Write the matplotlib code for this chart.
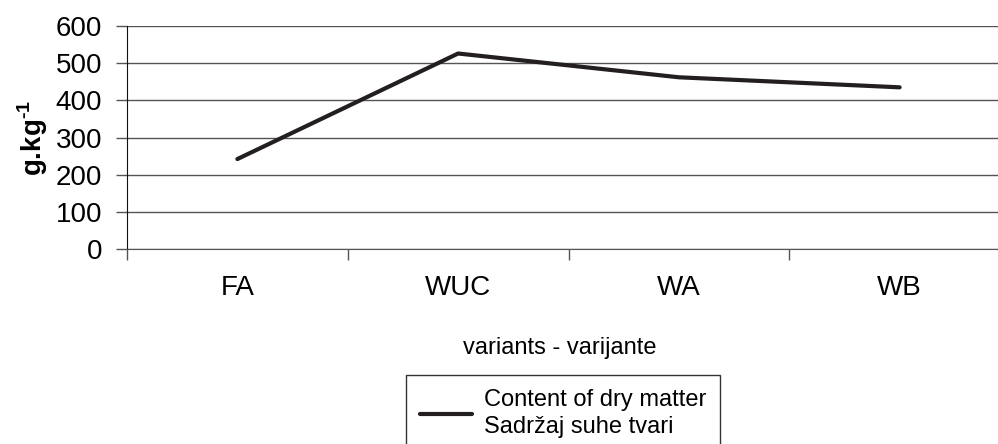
import matplotlib
matplotlib.use("Agg")
import matplotlib.pyplot as plt
import numpy as np

plt.rcParams['font.family'] = ['Liberation Sans', 'DejaVu Sans']
plt.rcParams['mathtext.fontset'] = 'custom'
plt.rcParams['mathtext.rm'] = 'Liberation Sans:bold'
plt.rcParams['mathtext.bf'] = 'Liberation Sans:bold'

# data
variants = ['FA', 'WUC', 'WA', 'WB']
dry_matter = [242, 526, 462, 435]
yticks = [0, 100, 200, 300, 400, 500, 600]

W, H = 998, 444
fig = plt.figure(figsize=(W / 100, H / 100), dpi=100)
ax = fig.add_axes([127 / W, 1 - 249 / H, (1010 - 127) / W, (249 - 26) / H])

x = np.arange(len(variants))
ax.plot(x, dry_matter, color='#231f20', lw=3.0, solid_capstyle='round',
        label='Content of dry matter\nSadržaj suhe tvari', zorder=3)

ax.set_xlim(-0.5, len(variants) - 0.5)
ax.set_ylim(0, 600)
ax.set_yticks(yticks)
ax.yaxis.grid(True, color='#555555', lw=1)
ax.set_axisbelow(True)

ax.set_xticks(x)
ax.set_xticklabels(variants, fontsize=20)
ax.tick_params(axis='x', which='major', length=0, pad=19)
ax.set_xticks(np.arange(-0.5, len(variants)), minor=True)
ax.tick_params(axis='x', which='minor', length=8, width=1, color='#555555', direction='out')
ax.tick_params(axis='y', labelsize=20, length=8, width=1, color='#555555', pad=10)

for s in ['top', 'right']:
    ax.spines[s].set_visible(False)
ax.spines['left'].set_color('#111111')
ax.spines['bottom'].set_color('#555555')

ax.set_ylabel(r'g.kg$^{\text{-}1}$', fontsize=20, fontweight='bold', labelpad=4)
fig.text(560 / W, 1 - 348 / H, 'variants - varijante', fontsize=17, ha='center', va='center')

leg = fig.legend(loc='upper center', bbox_to_anchor=(563 / W, 1 - 375 / H), fontsize=17,
                 frameon=True, fancybox=False, edgecolor='#333333', framealpha=1,
                 handlelength=2.2, handletextpad=0.5, borderpad=0.6, labelspacing=0.15,
                 borderaxespad=0)
for t in leg.get_texts():
    t.set_linespacing(1.3)

fig.savefig('out.png', dpi=100)
